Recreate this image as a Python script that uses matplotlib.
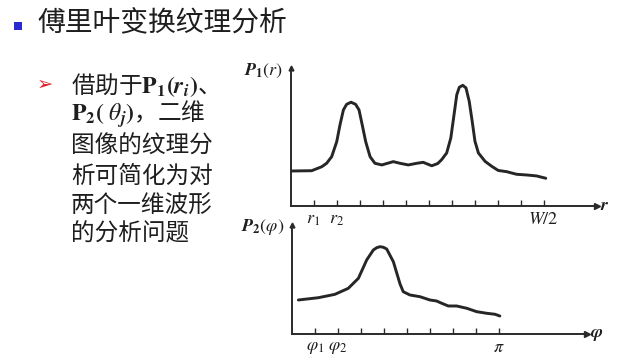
import matplotlib
matplotlib.use("Agg")
import matplotlib.pyplot as plt
from matplotlib.patches import Rectangle

plt.rcParams['font.family'] = ['Noto Sans CJK SC', 'DejaVu Sans']
plt.rcParams['mathtext.fontset'] = 'stix'

# ---------------- data ----------------
title = '傅里叶变换纹理分析'
body_lines = [
    r'借助于$\mathbf{P}_\mathbf{1}\mathbf{(}\mathbfit{r}_{\mathbfit{i}}\mathbf{)}$、',
    r'$\mathbf{P}_\mathbf{2}\mathbf{(}\ \theta_{\mathbfit{j}}\mathbf{)}$，二维',
    '图像的纹理分',
    '析可简化为对',
    '两个一维波形',
    '的分析问题',
]

p1_x = [0.05, 0.92, 1.36, 1.57, 1.79, 2.01, 2.15, 2.30, 2.44, 2.63, 2.83, 2.98, 3.12,
        3.27, 3.46, 3.67, 3.97, 4.47, 4.76, 5.12, 5.49, 5.77, 6.14, 6.40, 6.57, 6.79,
        6.97, 7.11, 7.23, 7.34, 7.49, 7.63, 7.77, 7.90, 8.02, 8.17, 8.46, 8.75, 9.03,
        9.40, 9.83, 10.27, 10.70, 11.10]
p1_y = [2.51, 2.53, 2.82, 3.07, 3.55, 4.64, 5.85, 6.95, 7.36, 7.51, 7.36, 6.95, 5.85,
        4.64, 3.55, 3.07, 2.95, 3.19, 3.07, 2.95, 3.07, 3.14, 2.89, 3.05, 3.33, 3.82,
        4.91, 6.60, 8.06, 8.60, 8.74, 8.55, 7.58, 6.12, 4.67, 3.82, 3.21, 2.85, 2.55,
        2.46, 2.27, 2.22, 2.15, 1.98]

p2_x = [0.29, 1.16, 1.88, 2.46, 2.90, 3.26, 3.55, 3.70, 3.84, 3.98, 4.13, 4.42, 4.71,
        4.85, 5.14, 5.58, 6.01, 6.30, 6.52, 6.81, 7.17, 7.61, 8.04, 8.48, 8.84, 9.05]
p2_y = [3.12, 3.33, 3.64, 4.19, 5.11, 6.79, 7.71, 7.92, 8.01, 7.96, 7.80, 6.63, 4.59,
        3.88, 3.58, 3.42, 3.12, 3.03, 2.82, 2.57, 2.57, 2.36, 2.05, 1.90, 1.81, 1.65]

p1_ticks = list(range(1, 12))
p1_ticklabels = [r'$r_1$', r'$r_2$', '', '', '', '', '', '', '', '', r'$W/2$']
p2_ticks = list(range(1, 10))
p2_ticklabels = [r'$\varphi_1$', r'$\varphi_2$', '', '', '', '', '', '', r'$\pi$']

p1_label = r'$\mathbfit{P}_\mathbf{1}(r)$'
p2_label = r'$\mathbfit{P}_\mathbf{2}(\varphi)$'
p1_axis_name = r'$\mathbfit{r}$'
p2_axis_name = r'$\mathbfit{\varphi}$'

# ---------------- figure ----------------
W, H = 634, 360
fig = plt.figure(figsize=(W / 100, H / 100), dpi=100)
fig.patch.set_facecolor('white')

ink = '#1e1e1e'

# title + bullet
fig.add_artist(Rectangle((14 / W, 1 - 30 / H), 8 / W, 8 / H, transform=fig.transFigure,
                         facecolor='#2a2ad0', edgecolor='none'))
fig.text(38 / W, 1 - 23 / H, title, fontsize=20, va='center', ha='left', color=ink)

# body text
fig.text(37 / W, 1 - 84 / H, '➢', fontsize=14, color='#e0202a', va='center', ha='left',
         family=['DejaVu Sans'])
line_y = [85, 114, 146, 176, 206, 234]
for txt, yy in zip(body_lines, line_y):
    fig.text(71 / W, 1 - yy / H, txt, fontsize=17, va='center', ha='left', color=ink)


def make_axes(rect, xs, ys, xmax, ticks, ticklabels, ylabel, xname):
    ax = fig.add_axes(rect)
    ax.plot(xs, ys, color='#262626', lw=2.1, solid_capstyle='round', solid_joinstyle='round')
    ax.set_xlim(0, xmax)
    ax.set_ylim(0, 10)
    for s in ('top', 'right'):
        ax.spines[s].set_visible(False)
    for s in ('left', 'bottom'):
        ax.spines[s].set_linewidth(1.4)
        ax.spines[s].set_color('#2a2a2a')
    ax.set_yticks([])
    ax.set_xticks(ticks, ticklabels)
    ax.tick_params(axis='x', direction='in', length=4.5, width=1.0, color='#2a2a2a',
                   pad=3, labelsize=13, labelcolor=ink)
    ax.set_facecolor('none')
    # arrow heads
    ax.plot([1], [0], marker='>', ms=5, color='#2a2a2a', transform=ax.transAxes, clip_on=False)
    ax.plot([0], [1], marker='^', ms=3.5, color='#2a2a2a', transform=ax.transAxes, clip_on=False)
    ax.text(-0.025, 0.98, ylabel, transform=ax.transAxes, ha='right', va='center',
            fontsize=13, color=ink)
    ax.text(1.01, 0.0, xname, transform=ax.transAxes, ha='left', va='center',
            fontsize=13, color=ink)
    return ax


make_axes([290.5 / W, 1 - 205.5 / H, 306.5 / W, 137.5 / H], p1_x, p1_y, 306.5 / 23,
          p1_ticks, p1_ticklabels, p1_label, p1_axis_name)
make_axes([291.7 / W, 1 - 334 / H, 295.3 / W, 109 / H], p2_x, p2_y, 295.3 / 23,
          p2_ticks, p2_ticklabels, p2_label, p2_axis_name)

fig.savefig('out.png', dpi=100, facecolor='white')
